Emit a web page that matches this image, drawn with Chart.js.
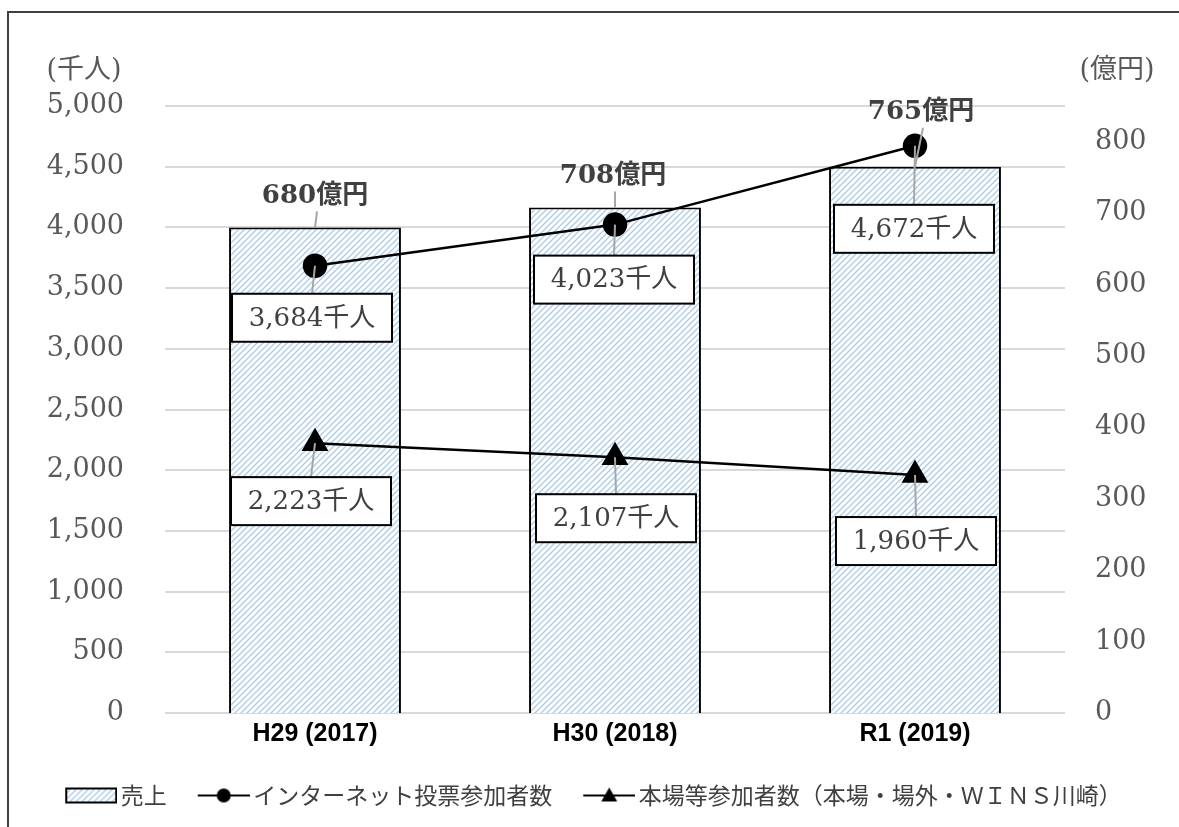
<!DOCTYPE html>
<html lang="ja">
<head>
<meta charset="utf-8">
<script src="https://cdn.jsdelivr.net/npm/chart.js@4.4.1/dist/chart.umd.min.js"></script>
<style>
  html, body { margin: 0; padding: 0; background: #fff; overflow: hidden; }
  #wrap { position: relative; width: 1179px; height: 827px; }
  #frame { position: absolute; left: 7px; top: 11px; width: 1220px; height: 900px; border: 2px solid #404040; box-sizing: border-box; pointer-events: none; }
  canvas { position: absolute; left: 0; top: 0; }
</style>
</head>
<body>
<div id="wrap">
  <canvas id="chart" width="1179" height="827"></canvas>
  <div id="frame"></div>
</div>
<script>
// data
const years = ["H29 (2017)", "H30 (2018)", "R1 (2019)"];
const sales = [680, 708, 765]; // 億円
const internetUsers = [3684, 4023, 4672]; // 千人
const venueUsers = [2223, 2107, 1960]; // 千人
const seriesNames = ["売上", "インターネット投票参加者数", "本場等参加者数（本場・場外・ＷＩＮＳ川崎）"];

// label placement (offset from the mark, px)
const salesLabelOffset = [[0, -31], [-2, -31], [6, -54]];
const internetLabelOffset = [[-3, 52], [-1, 55], [-1, 83]];
const venueLabelOffset = [[-4, 58], [1, 61], [1, 66]];

const serif = "'DejaVu Serif', 'Noto Sans CJK JP'";
const textGray = "#404040";

// light blue diagonal hatch used for the bars
function makeHatch(size) {
  const c = document.createElement("canvas");
  c.width = size;
  c.height = size;
  const g = c.getContext("2d");
  g.fillStyle = "#ffffff";
  g.fillRect(0, 0, size, size);
  g.strokeStyle = "#a9cbea";
  g.lineWidth = 1.3;
  g.beginPath();
  g.moveTo(-1, size + 1);
  g.lineTo(size + 1, -1);
  g.moveTo(-1, 1);
  g.lineTo(1, -1);
  g.moveTo(size - 1, size + 1);
  g.lineTo(size + 1, size - 1);
  g.stroke();
  return g.createPattern(c, "repeat");
}
const hatch = makeHatch(6);

// legend icons: 68px canvas, drawing sits in the right 52px
function barIcon() {
  const c = document.createElement("canvas");
  c.width = 68;
  c.height = 18;
  const g = c.getContext("2d");
  g.fillStyle = hatch;
  g.fillRect(17, 2, 50, 14);
  g.strokeStyle = "#000";
  g.lineWidth = 2;
  g.strokeRect(17, 2, 50, 14);
  return c;
}
function lineIcon(shape) {
  const c = document.createElement("canvas");
  c.width = 68;
  c.height = 20;
  const g = c.getContext("2d");
  g.strokeStyle = "#000";
  g.lineWidth = 2;
  g.beginPath();
  g.moveTo(16, 10);
  g.lineTo(68, 10);
  g.stroke();
  g.fillStyle = "#000";
  g.beginPath();
  if (shape === "circle") {
    g.arc(42, 10, 7, 0, Math.PI * 2);
  } else {
    g.moveTo(42, 2);
    g.lineTo(50, 16);
    g.lineTo(34, 16);
    g.closePath();
  }
  g.fill();
  return c;
}
const legendIcons = [barIcon(), lineIcon("circle"), lineIcon("triangle")];

// data labels with leader lines, plus the two unit captions
const labelPlugin = {
  id: "valueLabels",
  afterDatasetsDraw(chart) {
    const ctx = chart.ctx;
    ctx.save();
    ctx.textAlign = "center";
    ctx.textBaseline = "middle";

    chart.getDatasetMeta(0).data.forEach((bar, i) => {
      const x = bar.x + salesLabelOffset[i][0];
      const y = bar.y + salesLabelOffset[i][1];
      ctx.strokeStyle = "#a6a6a6";
      ctx.lineWidth = 2;
      ctx.beginPath();
      ctx.moveTo(x + 2, y + 15);
      ctx.lineTo(bar.x, bar.y);
      ctx.stroke();
      ctx.font = "bold 26px " + serif;
      ctx.fillStyle = textGray;
      ctx.fillText(sales[i] + "億円", x, y);
    });

    [[1, internetUsers, internetLabelOffset], [2, venueUsers, venueLabelOffset]].forEach(([idx, values, offs]) => {
      chart.getDatasetMeta(idx).data.forEach((pt, i) => {
        const x = pt.x + offs[i][0];
        const y = pt.y + offs[i][1];
        ctx.strokeStyle = "#a6a6a6";
        ctx.lineWidth = 2;
        ctx.beginPath();
        ctx.moveTo(x, y - 24);
        ctx.lineTo(pt.x, pt.y);
        ctx.stroke();
        ctx.fillStyle = "#fff";
        ctx.fillRect(x - 80, y - 24, 160, 48);
        ctx.strokeStyle = "#000";
        ctx.strokeRect(x - 80, y - 24, 160, 48);
        ctx.font = "26px " + serif;
        ctx.fillStyle = textGray;
        ctx.fillText(values[i].toLocaleString("en-US") + "千人", x, y + 1);
      });
    });
    ctx.restore();
  },
  afterDraw(chart) {
    const ctx = chart.ctx;
    const area = chart.chartArea;
    ctx.save();
    ctx.font = "27px " + serif;
    ctx.fillStyle = "#595959";
    ctx.textAlign = "center";
    ctx.textBaseline = "middle";
    ctx.fillText("(千人)", area.left - 81, area.top - 35);
    ctx.fillText("(億円)", area.right + 52, area.top - 35);
    ctx.restore();
  },
};

function displayChart() {
  const ctx = document.getElementById("chart").getContext("2d");

  new Chart(ctx, {
    data: {
      labels: years,
      datasets: [
        {
          type: "bar",
          label: seriesNames[0],
          data: sales,
          yAxisID: "y2",
          backgroundColor: hatch,
          borderColor: "#000",
          borderWidth: 2,
          categoryPercentage: 1,
          barPercentage: 0.573,
          order: 3,
        },
        {
          type: "line",
          label: seriesNames[1],
          data: internetUsers,
          yAxisID: "y",
          borderColor: "#000",
          borderWidth: 2.5,
          pointStyle: "circle",
          pointRadius: 11,
          pointBackgroundColor: "#000",
          pointBorderColor: "#000",
          order: 1,
        },
        {
          type: "line",
          label: seriesNames[2],
          data: venueUsers,
          yAxisID: "y",
          borderColor: "#000",
          borderWidth: 2.5,
          pointStyle: "triangle",
          pointRadius: 13,
          pointBackgroundColor: "#000",
          pointBorderColor: "#000",
          order: 2,
        },
      ],
    },
    options: {
      responsive: false,
      animation: false,
      devicePixelRatio: 1,
      layout: { padding: { top: 106, left: 0, right: 0, bottom: 10 } },
      plugins: {
        tooltip: { enabled: false },
        legend: {
          position: "bottom",
          labels: {
            usePointStyle: true,
            pointStyleWidth: 52,
            padding: 23,
            color: textGray,
            font: { family: "'Noto Sans CJK JP'", size: 23 },
            generateLabels: (chart) =>
              chart.data.datasets.map((ds, i) => ({
                text: ds.label,
                pointStyle: legendIcons[i],
                fontColor: textGray,
                fillStyle: "transparent",
                strokeStyle: "transparent",
                lineWidth: 0,
                hidden: false,
                datasetIndex: i,
              })),
          },
        },
      },
      scales: {
        x: {
          grid: { display: false, drawTicks: false },
          border: { display: false },
          ticks: {
            color: "#000",
            padding: 6,
            font: { family: "'Liberation Sans Narrow', 'Liberation Sans'", size: 25, weight: "bold" },
          },
          afterFit: (scale) => { scale.height = 48; },
        },
        y: {
          position: "left",
          min: 0,
          max: 5000,
          ticks: {
            stepSize: 500,
            padding: 41,
            color: "#595959",
            font: { family: serif, size: 27 },
            callback: (v) => v.toLocaleString("en-US"),
          },
          grid: { color: "#d9d9d9", lineWidth: 2, drawTicks: false },
          border: { display: false },
          afterFit: (scale) => { scale.width = 165; },
        },
        y2: {
          position: "right",
          min: 0,
          max: 850,
          ticks: {
            stepSize: 100,
            padding: 30,
            color: "#595959",
            font: { family: serif, size: 27 },
            callback: (v) => (v % 100 === 0 ? v : ""),
          },
          grid: { display: false, drawTicks: false },
          border: { display: false },
          afterFit: (scale) => { scale.width = 114; },
        },
      },
    },
    plugins: [labelPlugin],
  });
}

document.addEventListener("DOMContentLoaded", displayChart);
</script>
</body>
</html>
